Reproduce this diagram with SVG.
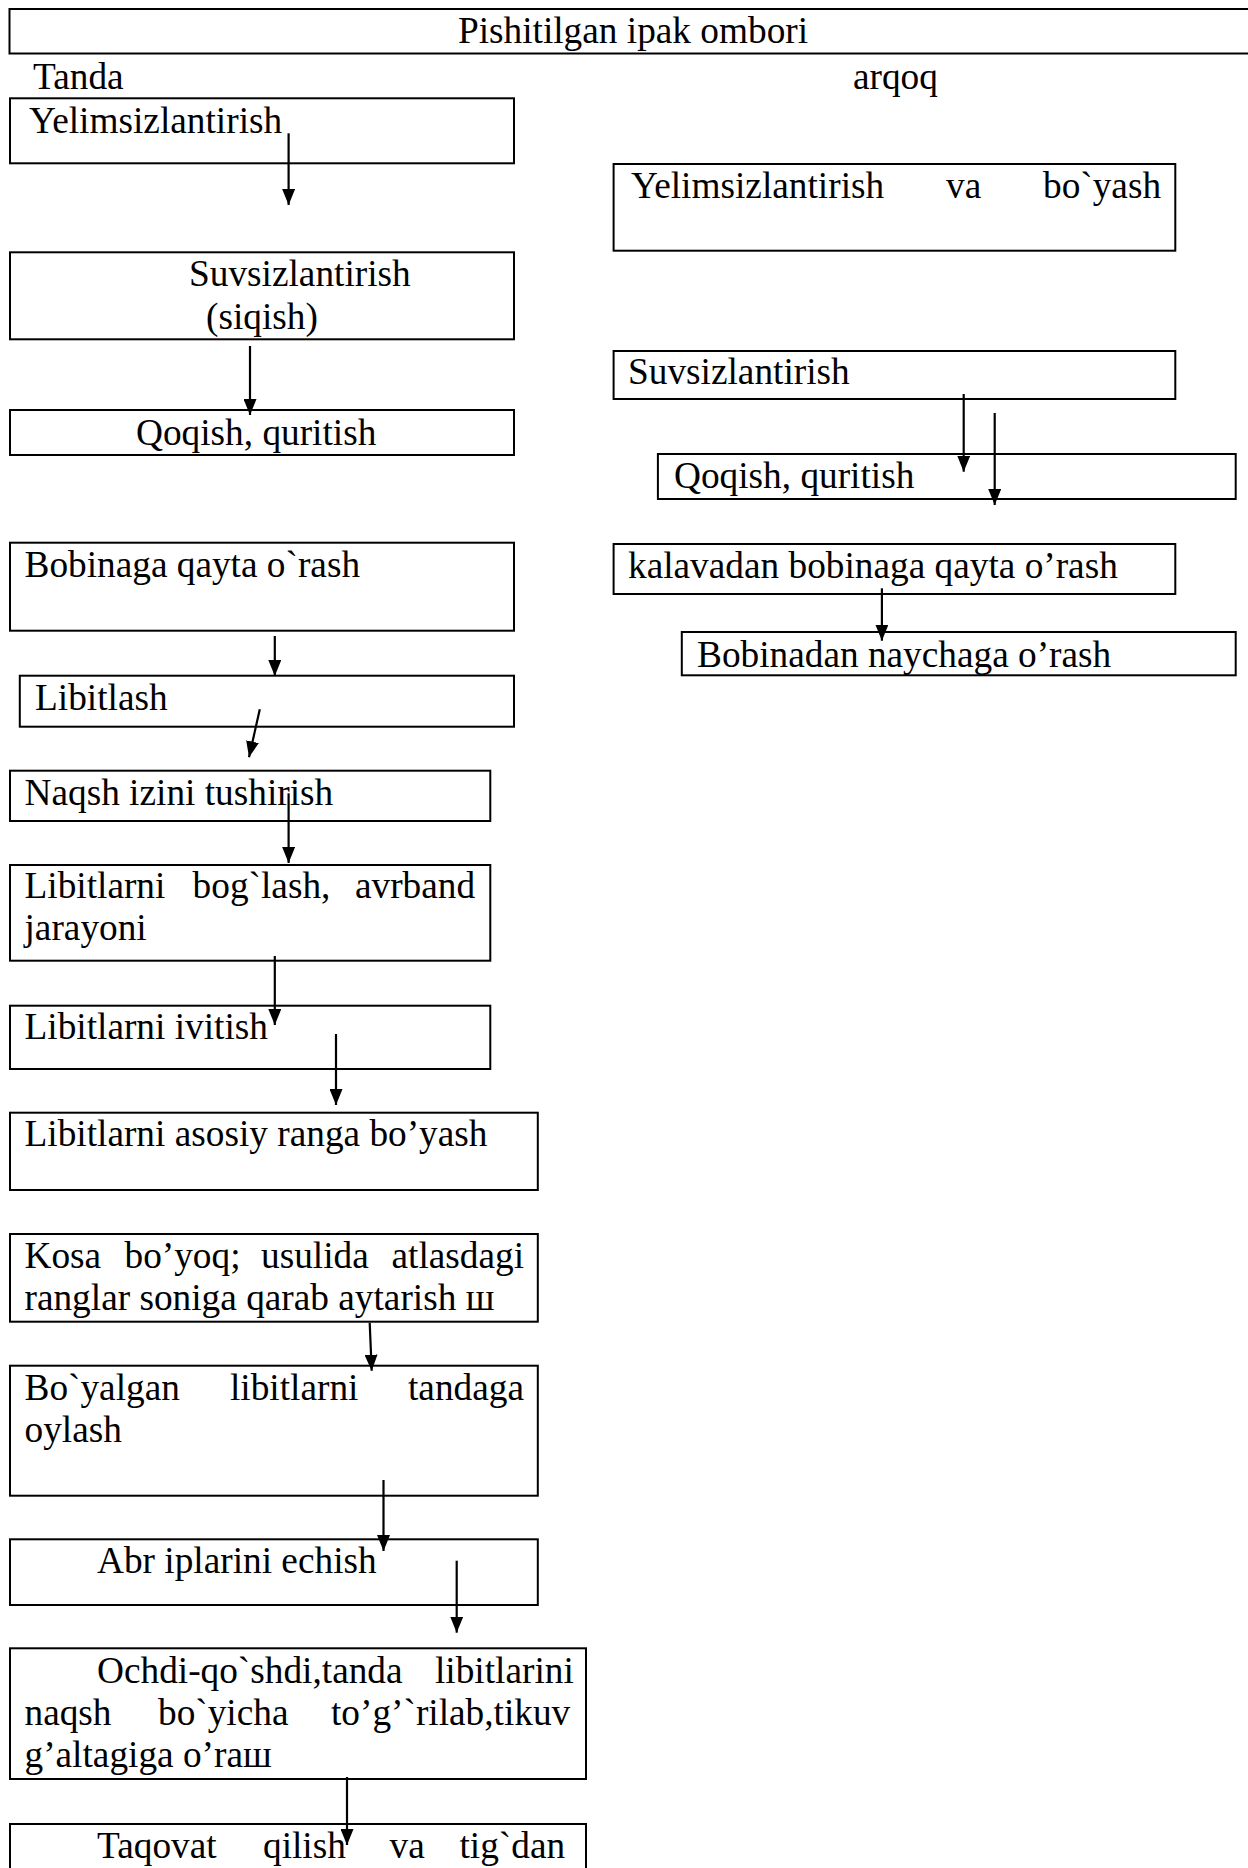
<svg xmlns="http://www.w3.org/2000/svg" width="1248" height="1868" viewBox="0 0 1248 1868">
<style>
.b{fill:none;stroke:#000;stroke-width:2}
.t{font-family:"Liberation Serif","Times New Roman",serif;font-size:37.3px;fill:#000}
.c{stroke:#000;stroke-width:2.2;fill:none;marker-end:url(#ah)}
</style>
<defs>
<marker id="ah" markerWidth="16" markerHeight="13" refX="16" refY="6.5" orient="auto" markerUnits="userSpaceOnUse">
<path d="M0,0 L16,6.5 L0,13 z" fill="#000"/>
</marker>
</defs>
<rect width="1248" height="1868" fill="#fff"/>

<g id="ombor">
<rect class="b" x="9.5" y="9" width="1245" height="44.5"/>
<text class="t" x="633" y="43" text-anchor="middle">Pishitilgan ipak ombori</text>
</g>
<g id="tanda-label"><text class="t" x="33" y="89">Tanda</text></g>
<g id="arqoq-label"><text class="t" x="853" y="89">arqoq</text></g>

<g id="t1">
<rect class="b" x="10" y="98.3" width="504" height="65"/>
<text class="t" x="29" y="132.7">Yelimsizlantirish</text>
</g>
<g id="t2">
<rect class="b" x="10" y="252.3" width="504" height="87"/>
<text class="t" x="189" y="286">Suvsizlantirish</text>
<text class="t" x="206" y="329">(siqish)</text>
</g>
<g id="t3">
<rect class="b" x="10" y="410" width="504" height="45"/>
<text class="t" x="136" y="445">Qoqish, quritish</text>
</g>
<g id="t4">
<rect class="b" x="10" y="542.7" width="504" height="88"/>
<text class="t" x="24.5" y="577">Bobinaga qayta o`rash</text>
</g>
<g id="t5">
<rect class="b" x="19.8" y="675.7" width="494.2" height="51"/>
<text class="t" x="35" y="710">Libitlash</text>
</g>
<g id="t6">
<rect class="b" x="10" y="770.7" width="480.3" height="50.3"/>
<text class="t" x="24.5" y="805">Naqsh izini tushirish</text>
</g>
<g id="t7">
<rect class="b" x="10" y="865" width="480.3" height="95.7"/>
<text class="t" y="898"><tspan x="24.5">Libitlarni</tspan><tspan x="192.6">bog`lash,</tspan><tspan x="355">avrband</tspan></text>
<text class="t" x="24.5" y="940">jarayoni</text>
</g>
<g id="t8">
<rect class="b" x="10" y="1005.7" width="480.3" height="63.3"/>
<text class="t" x="24.5" y="1039">Libitlarni ivitish</text>
</g>
<g id="t9">
<rect class="b" x="10" y="1112.7" width="527.8" height="77.3"/>
<text class="t" x="24.5" y="1146">Libitlarni asosiy ranga bo’yash</text>
</g>
<g id="t10">
<rect class="b" x="10" y="1234" width="527.8" height="87.7"/>
<text class="t" y="1268"><tspan x="24.5">Kosa</tspan><tspan x="124.5">bo’yoq;</tspan><tspan x="261">usulida</tspan><tspan x="391.5">atlasdagi</tspan></text>
<text class="t" x="24.5" y="1310">ranglar soniga qarab aytarish ш</text>
</g>
<g id="t11">
<rect class="b" x="10" y="1365.7" width="527.8" height="130"/>
<text class="t" y="1400"><tspan x="24.5">Bo`yalgan</tspan><tspan x="230">libitlarni</tspan><tspan x="408">tandaga</tspan></text>
<text class="t" x="24.5" y="1442">oylash</text>
</g>
<g id="t12">
<rect class="b" x="10" y="1539.3" width="527.8" height="65.7"/>
<text class="t" x="97" y="1573">Abr iplarini echish</text>
</g>
<g id="t13">
<rect class="b" x="10" y="1648.3" width="576" height="130.7"/>
<text class="t" y="1683"><tspan x="97">Ochdi-qo`shdi,tanda</tspan><tspan x="435">libitlarini</tspan></text>
<text class="t" y="1725"><tspan x="24.5">naqsh</tspan><tspan x="158">bo`yicha</tspan><tspan x="331">to’g’`rilab,tikuv</tspan></text>
<text class="t" x="24.5" y="1767">g’altagiga o’raш</text>
</g>
<g id="t14">
<rect class="b" x="10" y="1824" width="576" height="60"/>
<text class="t" y="1858"><tspan x="97">Taqovat</tspan><tspan x="263">qilish</tspan><tspan x="389.5">va</tspan><tspan x="459.5">tig`dan</tspan></text>
</g>

<g id="a1">
<rect class="b" x="613.6" y="164" width="561.7" height="86.7"/>
<text class="t" y="197.7"><tspan x="631">Yelimsizlantirish</tspan><tspan x="946">va</tspan><tspan x="1043">bo`yash</tspan></text>
</g>
<g id="a2">
<rect class="b" x="613.6" y="351" width="561.7" height="48"/>
<text class="t" x="628" y="384">Suvsizlantirish</text>
</g>
<g id="a3">
<rect class="b" x="657.9" y="454" width="577.8" height="45"/>
<text class="t" x="674" y="488">Qoqish, quritish</text>
</g>
<g id="a4">
<rect class="b" x="613.6" y="544" width="561.7" height="50"/>
<text class="t" x="628" y="578">kalavadan bobinaga qayta o’rash</text>
</g>
<g id="a5">
<rect class="b" x="681.8" y="632" width="553.9" height="43.3"/>
<text class="t" x="697" y="667">Bobinadan naychaga o’rash</text>
</g>

<g id="connectors">
<line class="c" x1="288.6" y1="133.3" x2="288.6" y2="205"/>
<line class="c" x1="250" y1="346" x2="250" y2="415"/>
<line class="c" x1="963.7" y1="394" x2="963.7" y2="471.7"/>
<line class="c" x1="994.7" y1="413" x2="994.7" y2="505"/>
<line class="c" x1="274.8" y1="636" x2="274.8" y2="676"/>
<line class="c" x1="259.8" y1="709.3" x2="249" y2="757.3"/>
<line class="c" x1="288.6" y1="793.3" x2="288.6" y2="863"/>
<line class="c" x1="881.9" y1="588.3" x2="881.9" y2="640.7"/>
<line class="c" x1="274.8" y1="956" x2="274.8" y2="1025"/>
<line class="c" x1="336" y1="1034" x2="336" y2="1105"/>
<line class="c" x1="369.7" y1="1322.7" x2="371.7" y2="1370.7"/>
<line class="c" x1="383.5" y1="1480" x2="383.5" y2="1551"/>
<line class="c" x1="456.7" y1="1560.7" x2="456.7" y2="1632.7"/>
<line class="c" x1="347" y1="1777" x2="347" y2="1845"/>
</g>
</svg>
